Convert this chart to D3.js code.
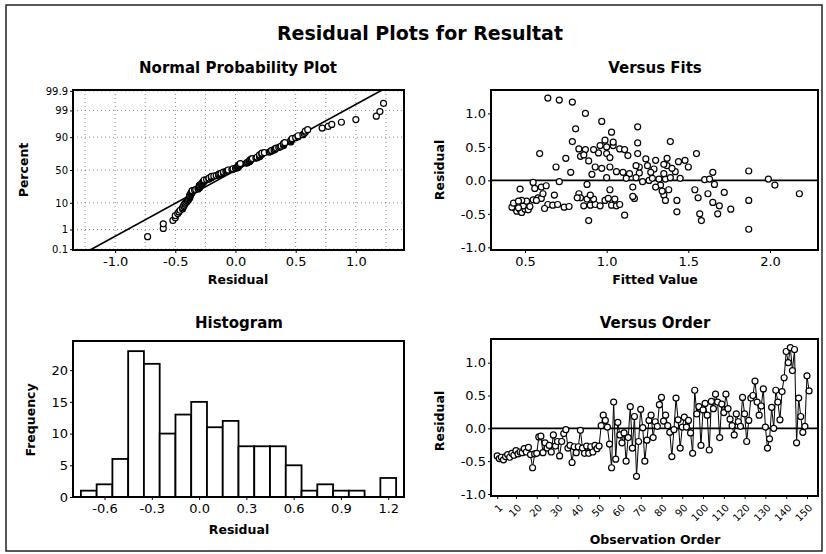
<!DOCTYPE html>
<html>
<head>
<meta charset="utf-8">
<script src="https://cdn.jsdelivr.net/npm/d3@7"></script>
<style>
  body { margin: 0; background: #fff; }
  svg { display: block; font-family: "DejaVu Sans", Verdana, sans-serif; }
</style>
</head>
<body>
<div id="chart"></div>
<script>
// Residuals in observation order
const residuals = [
  -0.42, -0.46, -0.44, -0.48, -0.43, -0.40, -0.44, -0.38, -0.41, -0.34,
  -0.39, -0.36, -0.37, -0.31, -0.36, -0.29, -0.40, -0.60, -0.39, -0.38,
  -0.13, -0.12, -0.37, -0.22, -0.30, -0.26, -0.36, -0.10, -0.27, -0.20,
  -0.42, -0.20, -0.08, -0.02, -0.30, -0.26, -0.52, -0.28, -0.37, -0.28,
  -0.03, -0.30, -0.38, -0.27, -0.38, -0.28, -0.36, -0.26, -0.31, -0.27,
   0.04,  0.20,  0.12,  0.02, -0.24, -0.60,  0.40, -0.47,  0.09, -0.10,
  -0.22, -0.07, -0.50, -0.14,  0.33, -0.30,  0.18, -0.73, -0.20,  0.29,
   0.01, -0.50, -0.18,  0.12,  0.20, -0.14,  0.10,  0.03,  0.36,  0.47,
   0.11,  0.20,  0.04, -0.06, -0.43, -0.02,  0.46,  0.13, -0.30,  0.02,
   0.17,  0.02,  0.12, -0.07, -0.38,  0.58,  0.22,  0.33, -0.26,  0.28,
   0.38,  0.20, -0.33,  0.41,  0.30,  0.52,  0.40, -0.14,  0.37,  0.24,
   0.52,  0.30,  0.14,  0.04, -0.10,  0.22,  0.10,  0.03,  0.47,  0.22,
  -0.20,  0.12,  0.46,  0.50,  0.72,  0.40,  0.20,  0.34,  0.60,  0.02,
  -0.30, -0.16,  0.32,  0.00,  0.58,  0.40,  0.13,  0.56,  0.77,  1.17,
   1.00,  1.23,  0.88,  1.20, -0.22,  0.46,  0.18, -0.06,  0.03,  0.80,
   0.57
];

const fitted = [
  0.44, 0.45, 0.47, 0.48, 0.50, 0.42, 0.52, 0.49, 0.46, 0.43,
  0.53, 0.64, 0.67, 0.51, 0.70, 0.55, 0.74, 0.89, 0.77, 0.86,
  0.47, 0.56, 0.90, 0.68, 0.48, 0.58, 0.93, 0.60, 0.60, 0.61,
  0.62, 0.83, 0.63, 0.71, 0.57, 0.84, 1.11, 0.88, 1.03, 0.92,
  0.55, 0.99, 1.06, 1.01, 0.96, 1.05, 1.08, 0.82, 0.46, 1.17,
  1.00, 0.69, 0.78, 1.99, 1.16, 1.58, 0.59, 1.43, 0.91, 1.16,
  1.35, 1.33, 1.57, 1.38, 0.75, 1.36, 0.97, 1.87, 1.62, 0.89,
  1.60, 1.68, 1.72, 1.10, 1.02, 1.54, 1.14, 1.12, 0.84, 0.83,
  1.20, 1.20, 1.18, 1.66, 1.76, 1.22, 0.87, 1.42, 1.43, 1.32,
  1.29, 1.36, 1.65, 2.03, 1.69, 1.39, 1.37, 1.37, 1.56, 1.44,
  0.86, 1.50, 1.65, 0.95, 1.48, 0.96, 1.00, 1.02, 1.13, 1.35,
  1.04, 1.30, 1.87, 1.39, 1.30, 1.18, 1.35, 1.45, 1.08, 1.25,
  2.18, 1.27, 0.92, 1.00, 1.03, 1.19, 0.93, 1.02, 0.99, 1.63,
  1.87, 1.34, 1.24, 1.26, 0.79, 1.55, 1.06, 1.19, 0.81, 0.79,
  0.87, 0.64, 0.97, 0.71, 0.90, 1.11, 1.40, 0.88, 1.28, 1.19,
  1.04
];

// Tick labels
const probTicks = [0.1, 1, 10, 50, 90, 99, 99.9];
const normXTicks = [-1.0, -0.5, 0.0, 0.5, 1.0];
const normXGrid = [-1.25, -1.0, -0.75, -0.5, -0.25, 0, 0.25, 0.5, 0.75, 1.0, 1.25];
const residTicks = [-1.0, -0.5, 0.0, 0.5, 1.0];
const fitsTicks = [0.5, 1.0, 1.5, 2.0];
const histXTicks = [-0.6, -0.3, 0.0, 0.3, 0.6, 0.9, 1.2];
const histYTicks = [0, 5, 10, 15, 20];
const histEdges = [-0.75, -0.65, -0.55, -0.45, -0.35, -0.25, -0.15, -0.05, 0.05, 0.15,
                   0.25, 0.35, 0.45, 0.55, 0.65, 0.75, 0.85, 0.95, 1.05, 1.15, 1.25];
const orderTicks = [1, 10, 20, 30, 40, 50, 60, 70, 80, 90, 100, 110, 120, 130, 140, 150];

const W = 826, H = 554;
const f1 = d => d.toFixed(1);

// inverse standard normal cdf (Acklam)
function qnorm(p) {
  const a = [-39.69683028665376, 220.9460984245205, -275.9285104469687, 138.3577518672690, -30.66479806614716, 2.506628277459239];
  const b = [-54.47609879822406, 161.5858368580409, -155.6989798598866, 66.80131188771972, -13.28068155288572];
  const c = [-0.007784894002430293, -0.3223964580411365, -2.400758277161838, -2.549732539343734, 4.374664141464968, 2.938163982698783];
  const d = [0.007784695709041462, 0.3224671290700398, 2.445134137142996, 3.754408661907416];
  const pl = 0.02425;
  let q, r;
  if (p < pl) {
    q = Math.sqrt(-2 * Math.log(p));
    return (((((c[0]*q+c[1])*q+c[2])*q+c[3])*q+c[4])*q+c[5]) / ((((d[0]*q+d[1])*q+d[2])*q+d[3])*q+1);
  }
  if (p > 1 - pl) {
    q = Math.sqrt(-2 * Math.log(1 - p));
    return -(((((c[0]*q+c[1])*q+c[2])*q+c[3])*q+c[4])*q+c[5]) / ((((d[0]*q+d[1])*q+d[2])*q+d[3])*q+1);
  }
  q = p - 0.5; r = q * q;
  return (((((a[0]*r+a[1])*r+a[2])*r+a[3])*r+a[4])*r+a[5])*q / (((((b[0]*r+b[1])*r+b[2])*r+b[3])*r+b[4])*r+1);
}

const svg = d3.select("#chart").append("svg")
  .attr("width", W).attr("height", H);

svg.append("rect").attr("width", W).attr("height", H).attr("fill", "#fff");

// outer frame
svg.append("rect")
  .attr("x", 6).attr("y", 5).attr("width", 816).attr("height", 546)
  .attr("fill", "none").attr("stroke", "#222").attr("stroke-width", 1.5);

// main title
svg.append("text")
  .attr("x", 420).attr("y", 40).attr("text-anchor", "middle")
  .attr("font-size", 19).attr("font-weight", "bold")
  .text("Residual Plots for Resultat");

function styleAxis(g, fs) {
  g.select(".domain").remove();
  g.selectAll(".tick line").attr("stroke", "#000").attr("stroke-width", 1);
  g.selectAll(".tick text").attr("fill", "#000").attr("font-size", fs)
    .attr("font-family", "DejaVu Sans, Verdana, sans-serif");
}

function frame(x, y) {
  const [x0, x1] = x.range(), [y0, y1] = y.range();
  svg.append("rect")
    .attr("x", x0).attr("y", y1).attr("width", x1 - x0).attr("height", y0 - y1)
    .attr("fill", "none").attr("stroke", "#000").attr("stroke-width", 2);
}

function titles(cx, ty, title, xlab, xly, ylab, ylx, yly) {
  svg.append("text").attr("x", cx).attr("y", ty).attr("text-anchor", "middle")
    .attr("font-size", 15).attr("font-weight", "bold").text(title);
  svg.append("text").attr("x", cx).attr("y", xly).attr("text-anchor", "middle")
    .attr("font-size", 12.5).attr("font-weight", "bold").text(xlab);
  svg.append("text").attr("transform", `translate(${ylx},${yly}) rotate(-90)`)
    .attr("text-anchor", "middle").attr("font-size", 12.5).attr("font-weight", "bold").text(ylab);
}

// ---------- Normal Probability Plot ----------
{
  const x = d3.scaleLinear().domain([-1.35, 1.4]).range([73, 404]);
  const y = d3.scaleLinear().domain([-3.125, 3.125]).range([250, 90]);
  const n = residuals.length;
  const sorted = residuals.slice().sort(d3.ascending);
  const pts = sorted.map((r, i) => [r, qnorm((i + 1 - 0.3) / (n + 0.4))]);
  const mu = d3.mean(residuals), sd = d3.deviation(residuals);

  const grid = svg.append("g").attr("stroke", "#888").attr("stroke-width", 1).attr("stroke-dasharray", "1,3");
  grid.selectAll(".gx").data(normXGrid).enter().append("line")
    .attr("x1", d => x(d)).attr("x2", d => x(d)).attr("y1", 90).attr("y2", 250);
  grid.selectAll(".gy").data(probTicks).enter().append("line")
    .attr("x1", 73).attr("x2", 404).attr("y1", d => y(qnorm(d / 100))).attr("y2", d => y(qnorm(d / 100)));

  svg.append("line")
    .attr("x1", x(mu - 3.125 * sd)).attr("y1", y(-3.125))
    .attr("x2", x(mu + 3.125 * sd)).attr("y2", y(3.125))
    .attr("stroke", "#000").attr("stroke-width", 1.6);

  svg.append("g").selectAll("circle").data(pts).enter().append("circle")
    .attr("cx", d => x(d[0])).attr("cy", d => y(d[1])).attr("r", 3)
    .attr("fill", "#fff").attr("stroke", "#000").attr("stroke-width", 1.2);

  frame(x, y);
  svg.append("g").attr("transform", "translate(0,250)")
    .call(d3.axisBottom(x).tickValues(normXTicks).tickFormat(f1).tickSize(3).tickPadding(4))
    .call(g => styleAxis(g, 13));
  svg.append("g").attr("transform", "translate(73,0)")
    .call(d3.axisLeft(d3.scaleLinear().domain(y.domain()).range(y.range()))
      .tickValues(probTicks.map(p => qnorm(p / 100)))
      .tickFormat((d, i) => String(probTicks[i])).tickSize(3).tickPadding(2))
    .call(g => styleAxis(g, 10));

  titles(238, 73, "Normal Probability Plot", "Residual", 284, "Percent", 28, 170);
}

// ---------- Versus Fits ----------
{
  const x = d3.scaleLinear().domain([0.292, 2.294]).range([491, 818]);
  const y = d3.scaleLinear().domain([-1.04, 1.35]).range([250, 90]);
  svg.append("line").attr("x1", 491).attr("x2", 818).attr("y1", y(0)).attr("y2", y(0))
    .attr("stroke", "#000").attr("stroke-width", 1.6);
  svg.append("g").selectAll("circle").data(residuals).enter().append("circle")
    .attr("cx", (d, i) => x(fitted[i])).attr("cy", d => y(d)).attr("r", 3)
    .attr("fill", "#fff").attr("stroke", "#000").attr("stroke-width", 1.2);
  frame(x, y);
  svg.append("g").attr("transform", "translate(0,250)")
    .call(d3.axisBottom(x).tickValues(fitsTicks).tickFormat(f1).tickSize(3).tickPadding(4))
    .call(g => styleAxis(g, 13));
  svg.append("g").attr("transform", "translate(491,0)")
    .call(d3.axisLeft(y).tickValues(residTicks).tickFormat(f1).tickSize(3).tickPadding(2))
    .call(g => styleAxis(g, 13));
  titles(655, 73, "Versus Fits", "Fitted Value", 284, "Residual", 444, 170);
}

// ---------- Histogram ----------
{
  const x = d3.scaleLinear().domain([-0.8, 1.3]).range([73, 404]);
  const y = d3.scaleLinear().domain([0, 24.6]).range([497, 341]);
  const bins = d3.bin().domain([histEdges[0], histEdges[histEdges.length - 1]])
    .thresholds(histEdges.slice(1, -1))(residuals);
  svg.append("g").selectAll("rect").data(bins).enter().append("rect")
    .attr("x", d => x(d.x0)).attr("width", d => x(d.x1) - x(d.x0))
    .attr("y", d => y(d.length)).attr("height", d => y(0) - y(d.length))
    .attr("fill", "#fff").attr("stroke", "#000").attr("stroke-width", 1.8);
  frame(x, y);
  svg.append("g").attr("transform", "translate(0,497)")
    .call(d3.axisBottom(x).tickValues(histXTicks).tickFormat(f1).tickSize(3).tickPadding(4))
    .call(g => styleAxis(g, 13));
  svg.append("g").attr("transform", "translate(73,0)")
    .call(d3.axisLeft(y).tickValues(histYTicks).tickFormat(d3.format("d")).tickSize(3).tickPadding(2))
    .call(g => styleAxis(g, 13));
  titles(239, 328, "Histogram", "Residual", 534, "Frequency", 35, 420);
}

// ---------- Versus Order ----------
{
  const x = d3.scaleLinear().domain([-2, 155.3]).range([491, 818]);
  const y = d3.scaleLinear().domain([-1.03, 1.36]).range([496, 339]);
  svg.append("line").attr("x1", 491).attr("x2", 818).attr("y1", y(0)).attr("y2", y(0))
    .attr("stroke", "#000").attr("stroke-width", 1.6);
  svg.append("path").datum(residuals)
    .attr("d", d3.line().x((d, i) => x(i + 1)).y(d => y(d)))
    .attr("fill", "none").attr("stroke", "#000").attr("stroke-width", 1);
  svg.append("g").selectAll("circle").data(residuals).enter().append("circle")
    .attr("cx", (d, i) => x(i + 1)).attr("cy", d => y(d)).attr("r", 3)
    .attr("fill", "#fff").attr("stroke", "#000").attr("stroke-width", 1.2);
  frame(x, y);
  svg.append("g").attr("transform", "translate(0,496)")
    .call(d3.axisBottom(x).tickValues(orderTicks).tickSize(3).tickPadding(3))
    .call(g => styleAxis(g, 10))
    .call(g => g.selectAll(".tick text")
      .attr("text-anchor", "end").attr("dy", "0.35em")
      .attr("transform", "translate(3,10) rotate(-45)").attr("y", 0).attr("x", 0));
  svg.append("g").attr("transform", "translate(491,0)")
    .call(d3.axisLeft(y).tickValues(residTicks).tickFormat(f1).tickSize(3).tickPadding(2))
    .call(g => styleAxis(g, 13));
  titles(655, 328, "Versus Order", "Observation Order", 544, "Residual", 444, 421);
}
</script>
</body>
</html>
